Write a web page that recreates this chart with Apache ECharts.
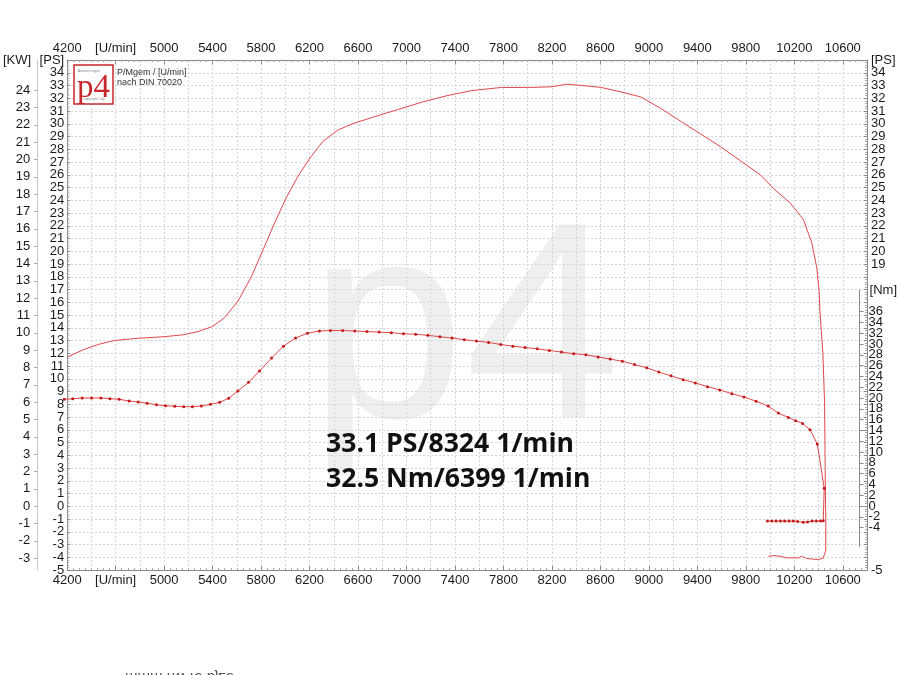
<!DOCTYPE html>
<html><head><meta charset="utf-8">
<script src="https://cdn.jsdelivr.net/npm/echarts@6/dist/echarts.min.js"></script>
<style>html,body{margin:0;padding:0;background:#fff}#c{width:900px;height:675px}</style>
</head><body><div id="c"></div>
<script>
// ---------- data ----------
const rpmPower = [4200,4340,4460,4590,4750,5000,5160,5280,5400,5500,5610,5720,5816,5915,6013,6112,6210,6309,6432,6555,6719,6924,7129,7334,7539,7786,8032,8200,8324,8450,8606,8770,8934,9098,9262,9427,9591,9755,9919,10042,10165,10274,10343,10384,10405,10411,10436,10450,10455,10460,10460,10438,10397,10302,10261,10233,10138,10083,10028,9987];
const powerPS = [11.7,12.3,12.7,13.0,13.15,13.3,13.45,13.7,14.1,14.8,16.1,18.0,20.1,22.3,24.3,26.0,27.4,28.6,29.5,30.0,30.5,31.1,31.7,32.2,32.6,32.85,32.85,32.9,33.1,33.0,32.85,32.5,32.1,31.2,30.2,29.2,28.2,27.1,26.0,24.8,23.8,22.5,20.7,18.8,16.9,15.4,12.0,8.1,2.8,-1.1,-3.45,-4.08,-4.18,-4.1,-3.92,-4.05,-4.05,-3.92,-3.87,-3.92];

const rpmTorque = [4210,4280,4358,4435,4512,4586,4662,4744,4818,4892,4969,5043,5119,5193,5264,5338,5412,5488,5562,5638,5726,5816,5915,6013,6112,6210,6309,6399,6500,6600,6700,6800,6900,7000,7100,7200,7300,7400,7500,7600,7700,7800,7900,8000,8100,8200,8300,8400,8500,8600,8700,8800,8900,9000,9100,9200,9300,9400,9500,9600,9700,9800,9900,10000,10083,10165,10225,10282,10343,10403,10460,10452,10430,10395,10360,10323,10288,10241,10206,10171,10135,10100,10064,10028,9993];
const torqueNm = [19.76,19.87,20.0,20.0,20.0,19.87,19.76,19.44,19.26,19.02,18.76,18.57,18.46,18.39,18.39,18.52,18.83,19.2,19.94,21.3,22.9,25.0,27.4,29.6,31.1,32.0,32.4,32.5,32.5,32.4,32.3,32.2,32.1,31.9,31.8,31.6,31.35,31.1,30.8,30.55,30.3,29.9,29.6,29.35,29.1,28.8,28.5,28.2,28.0,27.6,27.2,26.8,26.2,25.6,24.8,24.1,23.4,22.8,22.1,21.5,20.8,20.2,19.4,18.5,17.2,16.4,15.8,15.3,14.1,11.5,3.3,-2.75,-2.8,-2.8,-2.8,-2.95,-3.0,-2.85,-2.8,-2.8,-2.8,-2.8,-2.8,-2.8,-2.8];

// tick labels (split in two interleaved sets so neighbouring labels never collide)
const psTicksLeftA = [-4,-2,0,2,4,6,8,10,12,14,16,18,20,22,24,26,28,30,32,34];
const psTicksLeftB = [-5,-3,-1,1,3,5,7,9,11,13,15,17,19,21,23,25,27,29,31,33];
const kwTicks = [-3,-2,-1,0,1,2,3,4,5,6,7,8,9,10,11,12,13,14,15,16,17,18,19,20,21,22,23,24];
const psTicksRightA = [-5,20,22,24,26,28,30,32,34];
const psTicksRightB = [19,21,23,25,27,29,31,33];
const nmTicksA = [-4,0,4,8,12,16,20,24,28,32,36];
const nmTicksB = [-2,2,6,10,14,18,22,26,30,34];
const rpmUnitTick = 4600;
const peakText = ['33.1 PS/8324 1/min', '32.5 Nm/6399 1/min'];

const KW_PER_PS = 1 / 1.3596;

// ---------- chart ----------
const chart = echarts.init(document.getElementById('c'), null, {renderer: 'canvas'});
const FONT = 'Liberation Sans';
const labelStyle = {color: '#1a1a1a', fontSize: 13, fontFamily: FONT, showMinLabel: true, showMaxLabel: true, hideOverlap: false};
const rpmFormatter = v => (v === rpmUnitTick ? '[U/min]' : (v > 10700 ? '' : String(v)));
const nameStyle = (align, pad) => ({align: align, verticalAlign: 'middle', padding: pad, color: '#1a1a1a', fontSize: 13, fontFamily: FONT});
const labelOnlyAxis = (grid, pos, offset, min, max, margin, values) => ({
  gridIndex: grid, type: 'value', position: pos, offset: offset, min: min, max: max,
  axisLine: {show: false, onZero: false}, axisTick: {show: false}, splitLine: {show: false},
  axisLabel: Object.assign({}, labelStyle, {margin: margin, customValues: values})
});

const option = {
  animation: false,
  backgroundColor: '#fff',
  grid: [
    {left: 63, right: 33, top: 60, bottom: 105},
    {left: 63, right: 33, top: 290, height: 256.5}
  ],
  xAxis: [
    {gridIndex: 0, type: 'value', position: 'bottom', min: 4200, max: 10800, interval: 400,
      axisLine: {show: true, onZero: false, lineStyle: {color: '#8a8a8a'}},
      axisTick: {show: true, inside: true, length: 4, lineStyle: {color: '#8a8a8a'}},
      minorTick: {show: true, splitNumber: 8, length: 2, lineStyle: {color: '#aaa'}},
      splitLine: {show: false},
      axisLabel: Object.assign({}, labelStyle, {margin: 4, formatter: rpmFormatter})},
    {gridIndex: 0, type: 'value', position: 'top', min: 4200, max: 10800, interval: 400,
      axisLine: {show: true, onZero: false, lineStyle: {color: '#8a8a8a'}},
      axisTick: {show: true, inside: true, length: 4, lineStyle: {color: '#8a8a8a'}},
      minorTick: {show: true, splitNumber: 8, length: 2, lineStyle: {color: '#aaa'}},
      splitLine: {show: false},
      axisLabel: Object.assign({}, labelStyle, {margin: 5, formatter: rpmFormatter})},
    {gridIndex: 1, type: 'value', show: false, min: 4200, max: 10800,
      axisLine: {onZero: false}},
    {gridIndex: 0, type: 'value', position: 'bottom', min: 4200, max: 10800, interval: 200,
      axisLine: {show: false, onZero: false}, axisTick: {show: false}, axisLabel: {show: false},
      splitLine: {show: true, lineStyle: {color: '#d4d4d4', type: [2, 2], width: 1}}}
  ],
  yAxis: [
    {gridIndex: 0, type: 'value', position: 'left', min: -5, max: 35, interval: 1,
      name: '[PS]', nameLocation: 'end', nameGap: 0, nameMoveOverlap: false,
      nameTextStyle: nameStyle('right', [0, 3, 0, 0]),
      axisLine: {show: true, onZero: false, lineStyle: {color: '#8a8a8a'}},
      axisTick: {show: true, inside: true, length: 3, lineStyle: {color: '#8a8a8a'}},
      minorTick: {show: true, splitNumber: 5, length: 2, lineStyle: {color: '#aaa'}},
      splitLine: {show: true, lineStyle: {color: '#d4d4d4', type: [2, 2], width: 1}},
      axisLabel: Object.assign({}, labelStyle, {margin: 3, customValues: psTicksLeftA})},
    {gridIndex: 0, type: 'value', position: 'left', offset: 30, min: -5 * KW_PER_PS, max: 35 * KW_PER_PS,
      name: '[KW]', nameLocation: 'end', nameGap: 0, nameMoveOverlap: false,
      nameTextStyle: nameStyle('right', [0, 6, 0, 0]),
      axisLine: {show: true, onZero: false, lineStyle: {color: '#c8c8c8'}},
      axisTick: {show: true, length: 3, customValues: kwTicks, lineStyle: {color: '#aaa'}},
      splitLine: {show: false},
      axisLabel: Object.assign({}, labelStyle, {margin: 7, customValues: kwTicks})},
    {gridIndex: 0, type: 'value', position: 'right', min: -5, max: 35, interval: 1,
      name: '[PS]', nameLocation: 'end', nameGap: 0, nameMoveOverlap: false,
      nameTextStyle: nameStyle('left', [0, 0, 0, 4]),
      axisLine: {show: true, onZero: false, lineStyle: {color: '#8a8a8a'}},
      axisTick: {show: true, inside: true, length: 3, lineStyle: {color: '#8a8a8a'}},
      minorTick: {show: true, splitNumber: 5, length: 2, lineStyle: {color: '#aaa'}},
      splitLine: {show: false},
      axisLabel: Object.assign({}, labelStyle, {margin: 4, customValues: psTicksRightA})},
    {gridIndex: 1, type: 'value', position: 'right', offset: -6, min: -7.5, max: 40,
      name: '[Nm]', nameLocation: 'end', nameGap: 0, nameMoveOverlap: false,
      nameTextStyle: nameStyle('left', [0, 0, 0, 10]),
      axisLine: {show: true, onZero: false, lineStyle: {color: '#8a8a8a'}},
      axisTick: {show: true, inside: false, length: 4, customValues: nmTicksA.concat(nmTicksB), lineStyle: {color: '#8a8a8a'}},
      splitLine: {show: false},
      axisLabel: Object.assign({}, labelStyle, {margin: 9, customValues: nmTicksA})},
    labelOnlyAxis(0, 'left', 0, -5, 35, 3, psTicksLeftB),
    labelOnlyAxis(0, 'right', 0, -5, 35, 4, psTicksRightB),
    labelOnlyAxis(1, 'right', -6, -7.5, 40, 9, nmTicksB)
  ],
  graphic: [
    {type: 'text', z: -10, silent: true, style: {x: 309, y: 340, text: 'p4', fill: '#efefef', fontSize: 280, fontFamily: FONT, textAlign: 'left', textVerticalAlign: 'middle'}},
    {type: 'rect', z: 10, shape: {x: 74, y: 65, width: 39, height: 39}, style: {fill: '#fff', stroke: '#c8282d', lineWidth: 1.5}},
    {type: 'text', z: 11, style: {x: 93.5, y: 88, text: 'p4', fill: '#c8282d', fontSize: 33, fontFamily: 'Liberation Serif', textAlign: 'center', textVerticalAlign: 'middle'}},
    {type: 'text', z: 11, style: {x: 89, y: 71, text: 'Auswertungen', fill: '#888', fontSize: 3.5, fontFamily: FONT, textAlign: 'center', textVerticalAlign: 'middle'}},
    {type: 'text', z: 11, style: {x: 94, y: 99, text: 'copyright *ulp', fill: '#888', fontSize: 3.5, fontFamily: FONT, textAlign: 'center', textVerticalAlign: 'middle'}},
    {type: 'text', z: 11, style: {x: 117, y: 73, text: 'P/Mgem / [U/min]', fill: '#333', fontSize: 9, fontFamily: FONT, textVerticalAlign: 'middle'}},
    {type: 'text', z: 11, style: {x: 117, y: 83, text: 'nach DIN 70020', fill: '#333', fontSize: 9, fontFamily: FONT, textVerticalAlign: 'middle'}},
    {type: 'text', z: 11, style: {x: 326, y: 444, text: peakText[0], fill: '#111', fontSize: 26.6, fontWeight: 'bold', fontFamily: 'Open Sans', textVerticalAlign: 'middle'}},
    {type: 'text', z: 11, style: {x: 326, y: 479, text: peakText[1], fill: '#111', fontSize: 26.6, fontWeight: 'bold', fontFamily: 'Open Sans', textVerticalAlign: 'middle'}},
    {type: 'text', z: 11, x: 125, y: 677, scaleY: -1, style: {x: 0, y: 0, text: 'mmm nw45 bjze', fill: '#555', fontSize: 15, fontFamily: FONT, textVerticalAlign: 'middle'}}
  ],
  series: [
    {name: 'PS', type: 'line', xAxisIndex: 0, yAxisIndex: 0, symbol: 'none', clip: false,
      lineStyle: {color: '#e2474b', width: 1}, z: 5,
      data: rpmPower.map((r, i) => [r, powerPS[i]])},
    {name: 'Nm', type: 'line', xAxisIndex: 2, yAxisIndex: 3, symbol: 'circle', symbolSize: 3, showAllSymbol: true, clip: false,
      lineStyle: {color: '#e2474b', width: 1}, itemStyle: {color: '#c41a1a', borderWidth: 0}, z: 6,
      data: rpmTorque.map((r, i) => [r, torqueNm[i]])}
  ]
};
chart.setOption(option);
</script>
</body></html>
